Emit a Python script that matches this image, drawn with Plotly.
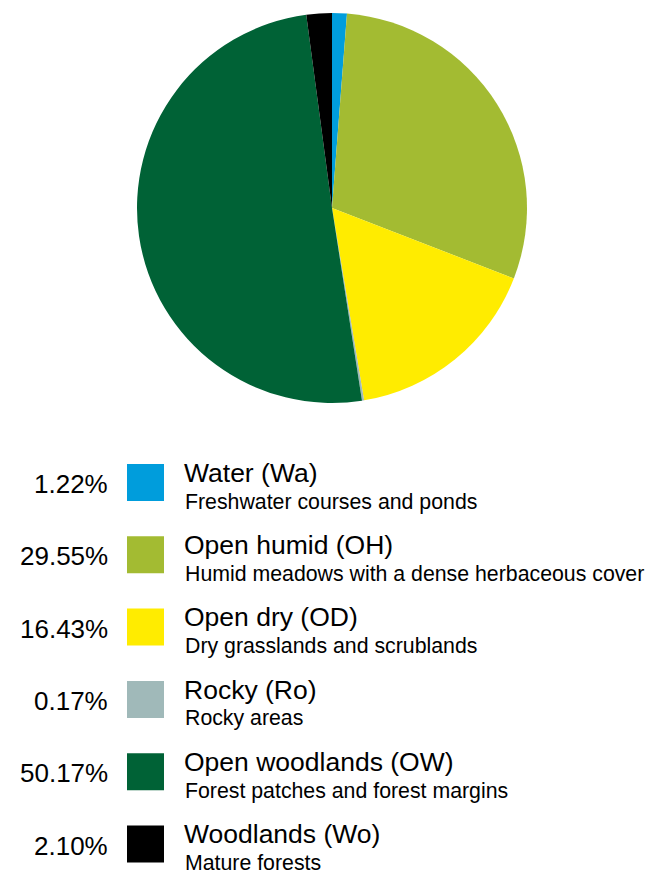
import plotly.graph_objects as go

# Habitat composition
codes = ["Wa", "OH", "OD", "Ro", "OW", "Wo"]
names = ["Water", "Open humid", "Open dry", "Rocky", "Open woodlands", "Woodlands"]
descriptions = [
    "Freshwater courses and ponds",
    "Humid meadows with a dense herbaceous cover",
    "Dry grasslands and scrublands",
    "Rocky areas",
    "Forest patches and forest margins",
    "Mature forests",
]
shares = [1.22, 29.55, 16.43, 0.17, 50.17, 2.10]
colors = ["#009ddc", "#a3bb32", "#ffec00", "#a0b9b9", "#006236", "#000000"]

W, H = 648, 871
FONT = "Liberation Sans, Arial, Helvetica, sans-serif"


def px(x):
    return x / W


def py(y):
    return 1 - y / H


# pie geometry (pixels)
cx, cy, r = 332, 208, 195

fig = go.Figure(
    go.Pie(
        labels=[f"{n} ({c})" for n, c in zip(names, codes)],
        values=shares,
        marker=dict(colors=colors, line=dict(width=0)),
        sort=False,
        direction="clockwise",
        rotation=0,
        textinfo="none",
        hoverinfo="label+percent",
        showlegend=False,
        domain=dict(x=[px(cx - r), px(cx + r)], y=[py(cy + r), py(cy - r)]),
    )
)

# custom legend: percentage, colour swatch, name and description
row_top0, row_step, sq = 464, 72.3, 37
sq_x0 = 127
shapes, annotations = [], []
for i, (n, c, d, s, col) in enumerate(zip(names, codes, descriptions, shares, colors)):
    top = row_top0 + i * row_step
    shapes.append(dict(
        type="rect", xref="paper", yref="paper",
        x0=px(sq_x0), x1=px(sq_x0 + sq), y0=py(top + sq), y1=py(top),
        fillcolor=col, line=dict(width=0),
    ))
    annotations.append(dict(
        xref="paper", yref="paper", x=px(110), y=py(top + 20),
        xanchor="right", yanchor="middle", showarrow=False,
        text=f"{s:.2f}%", font=dict(family=FONT, size=26, color="#000"),
    ))
    annotations.append(dict(
        xref="paper", yref="paper", x=px(182), y=py(top + 8.8),
        xanchor="left", yanchor="middle", showarrow=False,
        text=f"{n} ({c})", font=dict(family=FONT, size=26.5, color="#000"),
    ))
    annotations.append(dict(
        xref="paper", yref="paper", x=px(183), y=py(top + 37.5),
        xanchor="left", yanchor="middle", showarrow=False,
        text=d, font=dict(family=FONT, size=21.3, color="#000"),
    ))

fig.update_layout(
    width=W, height=H,
    margin=dict(l=0, r=0, t=0, b=0),
    paper_bgcolor="white", plot_bgcolor="white",
    shapes=shapes, annotations=annotations,
    font=dict(family=FONT),
)

fig.write_html("out.html", config={"displayModeBar": False})
